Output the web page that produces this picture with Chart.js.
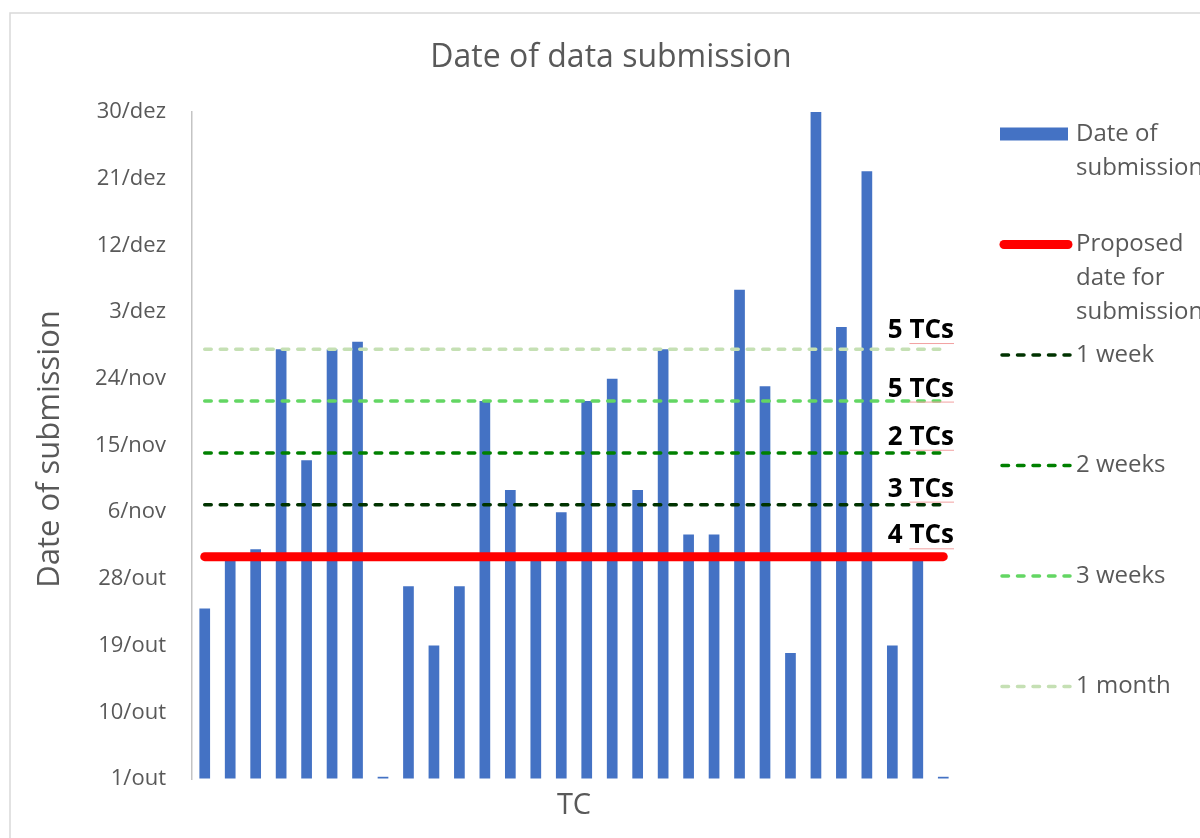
<!DOCTYPE html>
<html>
<head>
<meta charset="utf-8">
<title>Date of data submission</title>
<script src="https://cdn.jsdelivr.net/npm/chart.js@4/dist/chart.umd.min.js"></script>
<style>
  html, body { margin: 0; padding: 0; background: #fff; }
  #wrap { width: 1200px; height: 838px; }
</style>
</head>
<body>
<div id="wrap"><canvas id="subChart" width="1200" height="838"></canvas></div>
<script>
// categories (one per TC, names not shown on the chart)
const tcNames = ['1', '2', '3', '4', '5', '6', '7', '8', '9', '10',
                 '11', '12', '13', '14', '15', '16', '17', '18', '19', '20',
                 '21', '22', '23', '24', '25', '26', '27', '28', '29', '30'];

// submission date, counted in days after 1/out
const submissionDays = [23, 30, 31, 58, 43, 58, 59, 0.3, 26, 18,
                        26, 51, 39, 30, 36, 51, 54, 39, 58, 33,
                        33, 66, 53, 17, 90, 61, 82, 18, 30, 0.3];

// reference lines (days after 1/out)
const proposedDay = 30;
const deadlineNames = ['1 week', '2 weeks', '3 weeks', '1 month'];
const deadlineDays = [37, 44, 51, 58];

// y axis tick labels, one every 9 days
const tickLabels = ['1/out', '10/out', '19/out', '28/out', '6/nov', '15/nov',
                    '24/nov', '3/dez', '12/dez', '21/dez', '30/dez'];

// "n TCs" notes next to the lines, with the day level of their baseline
const tcNotes = ['5 TCs', '5 TCs', '2 TCs', '3 TCs', '4 TCs'];
const tcNoteDays = [59.5, 51.6, 45.1, 38.1, 31.8];

const chartTitle = 'Date of data submission';
const yTitle = 'Date of submission';
const xTitle = 'TC';

const deadlineColors = ['#003300', '#008000', '#63d663', '#c5e0b4'];
const greyText = '#595959';

function flatLine(value) {
    return [{ x: tcNames[0], y: value }, { x: tcNames[tcNames.length - 1], y: value }];
}

const decorPlugin = {
    id: 'decor',
    beforeDraw(chart) {
        const ctx = chart.ctx;
        ctx.save();
        ctx.fillStyle = '#fff';
        ctx.fillRect(0, 0, chart.width, chart.height);
        ctx.strokeStyle = '#d9d9d9';
        ctx.lineWidth = 1.5;
        ctx.strokeRect(10, 13, chart.width + 40, chart.height + 40);
        ctx.restore();
    },
    afterDraw(chart) {
        const ctx = chart.ctx;
        const area = chart.chartArea;
        const yScale = chart.scales.y;
        ctx.save();

        // titles
        ctx.fillStyle = greyText;
        ctx.textAlign = 'center';
        ctx.textBaseline = 'middle';
        ctx.font = '32px "Open Sans"';
        ctx.fillText(chartTitle, 611, 58);
        ctx.font = '29px "Open Sans"';
        ctx.fillText(xTitle, (area.left + area.right) / 2, 806);
        ctx.save();
        ctx.translate(50, 449);
        ctx.rotate(-Math.PI / 2);
        ctx.font = '31px "Open Sans"';
        ctx.fillText(yTitle, 0, 0);
        ctx.restore();

        // notes above the lines
        ctx.font = 'bold 26px "Open Sans"';
        ctx.textAlign = 'right';
        ctx.textBaseline = 'alphabetic';
        tcNotes.forEach((note, i) => {
            const yy = yScale.getPixelForValue(tcNoteDays[i]);
            const right = 954;
            ctx.fillStyle = '#000';
            ctx.fillText(note, right, yy);
            const w = ctx.measureText('TCs').width;
            ctx.strokeStyle = '#f2a0a0';
            ctx.lineWidth = 1;
            ctx.beginPath();
            ctx.moveTo(right - w, yy + 5.5);
            ctx.lineTo(right, yy + 5.5);
            ctx.stroke();
        });

        // legend on the right
        const lx = 1000, ltop = 134, step = 110.5, lineH = 34;
        ctx.font = '24px "Open Sans"';
        ctx.textAlign = 'left';
        ctx.textBaseline = 'middle';
        chart.data.datasets.forEach((ds, i) => {
            const cy = ltop + i * step;
            if (ds.type === 'line') {
                ctx.save();
                ctx.strokeStyle = ds.borderColor;
                ctx.lineWidth = ds.borderWidth;
                ctx.lineCap = ds.borderCapStyle || 'butt';
                ctx.setLineDash(ds.borderDash || []);
                ctx.beginPath();
                if (ds.borderDash) {
                    ctx.moveTo(lx + 2, cy);
                    ctx.lineTo(lx + 70, cy);
                } else {
                    ctx.moveTo(lx + 4, cy);
                    ctx.lineTo(lx + 68, cy);
                }
                ctx.stroke();
                ctx.restore();
            } else {
                ctx.fillStyle = ds.backgroundColor;
                ctx.fillRect(lx, cy - 6.5, 68, 13);
            }
            ctx.fillStyle = greyText;
            ds.label.split('\n').forEach((line, k) => {
                ctx.fillText(line, lx + 76, cy + k * lineH);
            });
        });

        ctx.restore();
    }
};

window.onload = function() {
    const datasets = [{
        type: 'bar',
        label: 'Date of\nsubmission',
        data: submissionDays,
        backgroundColor: '#4472c4',
        barPercentage: 0.42,
        categoryPercentage: 1,
        order: 5
    }, {
        type: 'line',
        label: 'Proposed\ndate for\nsubmission',
        data: flatLine(proposedDay),
        borderColor: '#ff0000',
        borderWidth: 9,
        borderCapStyle: 'round',
        pointRadius: 0,
        order: 0
    }];
    deadlineNames.forEach((name, i) => {
        datasets.push({
            type: 'line',
            label: name,
            data: flatLine(deadlineDays[i]),
            borderColor: deadlineColors[i],
            borderWidth: 3.5,
            borderDash: [6.5, 9],
            borderCapStyle: 'round',
            pointRadius: 0,
            order: 1
        });
    });

    new Chart(document.getElementById('subChart').getContext('2d'), {
        type: 'bar',
        data: { labels: tcNames, datasets },
        options: {
            responsive: false,
            animation: false,
            layout: { padding: { left: 10, top: 112, right: 244, bottom: 59 } },
            plugins: {
                legend: { display: false },
                title: { display: false },
                tooltip: { enabled: false }
            },
            scales: {
                x: {
                    type: 'category',
                    display: false,
                    offset: true
                },
                y: {
                    min: 0,
                    max: 90,
                    afterFit(scale) { scale.width = 182; },
                    grid: { drawOnChartArea: false, drawTicks: false },
                    border: { display: true, color: '#c4c4c4', width: 1.5 },
                    ticks: {
                        stepSize: 9,
                        autoSkip: false,
                        padding: 26,
                        color: greyText,
                        font: { family: 'Open Sans', size: 22 },
                        callback: v => tickLabels[Math.round(v / 9)]
                    }
                }
            }
        },
        plugins: [decorPlugin]
    });
};
</script>
</body>
</html>
